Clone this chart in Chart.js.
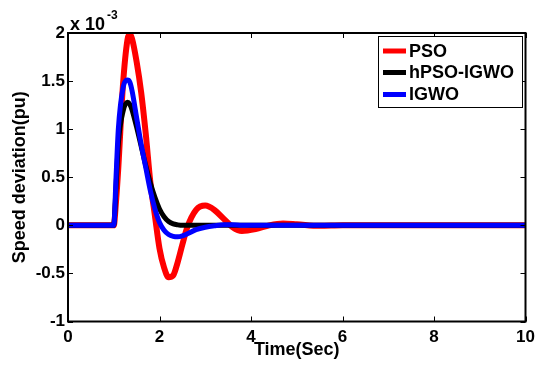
<!DOCTYPE html>
<html>
<head>
<meta charset="utf-8">
<script src="https://cdn.jsdelivr.net/npm/chart.js@4.4.1/dist/chart.umd.min.js"></script>
<style>
html,body{margin:0;padding:0;background:#fff;}
canvas{display:block;}
</style>
</head>
<body>
<canvas id="c" width="536" height="365"></canvas>
<script>
// Time axis (s)
const times = [0, 1.0, 1.05, 1.1, 1.2, 1.3, 1.35, 1.4, 1.5, 1.6, 1.7, 1.8, 1.9, 2.0, 2.1, 2.2, 2.3, 2.4, 2.5, 2.6, 2.8, 3.0, 3.2, 3.4, 3.6, 3.8, 4.1, 4.4, 4.7, 5.0, 5.5, 6.0, 10];
// Speed deviation (x 10^-3 pu)
const psoValues = [0, 0, 0.25, 0.6, 1.45, 1.93, 1.99, 1.94, 1.70, 1.38, 0.95, 0.45, 0.1, -0.24, -0.44, -0.54, -0.52, -0.38, -0.2, -0.03, 0.16, 0.205, 0.16, 0.07, -0.02, -0.06, -0.04, 0.0, 0.02, 0.012, -0.005, 0, 0];
const hybridValues = [0, 0, 0.4, 0.85, 1.18, 1.28, 1.26, 1.2, 1.02, 0.82, 0.62, 0.44, 0.29, 0.17, 0.09, 0.04, 0.015, 0.005, 0, 0, 0, 0, 0, 0, 0, 0, 0, 0, 0, 0, 0, 0, 0];
const igwoValues = [0, 0, 0.5, 1.0, 1.42, 1.51, 1.49, 1.40, 1.12, 0.84, 0.6, 0.36, 0.17, 0.03, -0.05, -0.095, -0.115, -0.12, -0.11, -0.09, -0.045, -0.02, -0.005, 0.005, 0.005, 0, 0, 0, 0, 0, 0, 0, 0];
const seriesLabels = ['PSO', 'hPSO-IGWO', 'IGWO'];
const xTicks = [0, 2, 4, 6, 8, 10];
const yTicks = [-1, -0.5, 0, 0.5, 1, 1.5, 2];

const FONT = 'Liberation Sans, Arial, sans-serif';
const toPts = vals => times.map((t, i) => ({x: t, y: vals[i]}));

const frame = {
  id: 'frame',
  afterDraw(chart) {
    const ctx = chart.ctx, a = chart.chartArea;
    const xs = chart.scales.x, ys = chart.scales.y;
    ctx.save();
    ctx.strokeStyle = '#000';
    ctx.lineWidth = 1;
    const tl = 5;
    ctx.beginPath();
    xTicks.forEach(v => {
      const px = Math.round(xs.getPixelForValue(v)) + 0.5;
      ctx.moveTo(px, a.bottom); ctx.lineTo(px, a.bottom - tl);
      ctx.moveTo(px, a.top); ctx.lineTo(px, a.top + tl);
    });
    yTicks.forEach(v => {
      const py = Math.round(ys.getPixelForValue(v)) + 0.5;
      ctx.moveTo(a.left, py); ctx.lineTo(a.left + tl, py);
      ctx.moveTo(a.right, py); ctx.lineTo(a.right - tl, py);
    });
    ctx.stroke();
    ctx.lineWidth = 2;
    ctx.strokeRect(a.left, a.top, a.right - a.left, a.bottom - a.top);

    // exponent label
    ctx.fillStyle = '#000';
    ctx.textBaseline = 'alphabetic';
    ctx.textAlign = 'left';
    ctx.font = 'bold 18px ' + FONT;
    ctx.fillText('x 10', 70, 30);
    ctx.font = 'bold 12px ' + FONT;
    ctx.fillText('-3', 107, 18.5);

    // legend
    const lx = 378.5, ly = 36.5, lw = 144, lh = 71;
    ctx.fillStyle = '#fff';
    ctx.fillRect(lx, ly, lw, lh);
    ctx.lineWidth = 1;
    ctx.strokeStyle = '#000';
    ctx.strokeRect(lx, ly, lw, lh);
    const rows = [51, 72.5, 94.5];
    chart.data.datasets.forEach((ds, i) => {
      ctx.strokeStyle = ds.borderColor;
      ctx.lineWidth = 5;
      ctx.beginPath();
      ctx.moveTo(383, rows[i]); ctx.lineTo(406, rows[i]);
      ctx.stroke();
      ctx.fillStyle = '#000';
      ctx.font = 'bold 18px ' + FONT;
      ctx.textBaseline = 'middle';
      ctx.fillText(ds.label, 409, rows[i] + 1);
    });
    ctx.restore();
  }
};

new Chart(document.getElementById('c'), {
  type: 'line',
  data: {
    datasets: [
      {label: seriesLabels[0], data: toPts(psoValues), borderColor: '#ff0000', borderWidth: 6, order: 2},
      {label: seriesLabels[1], data: toPts(hybridValues), borderColor: '#000000', borderWidth: 5, order: 1},
      {label: seriesLabels[2], data: toPts(igwoValues), borderColor: '#0000ff', borderWidth: 5, order: 0}
    ]
  },
  options: {
    responsive: false,
    animation: false,
    events: [],
    layout: {padding: {top: 33, right: 10.5, left: 0, bottom: 0}},
    elements: {
      point: {radius: 0},
      line: {cubicInterpolationMode: 'monotone', borderCapStyle: 'round', borderJoinStyle: 'round'}
    },
    plugins: {legend: {display: false}, tooltip: {enabled: false}},
    scales: {
      x: {
        type: 'linear', min: 0, max: 10,
        afterBuildTicks: s => { s.ticks = xTicks.map(v => ({value: v})); },
        grid: {display: false, drawTicks: false},
        border: {display: false},
        ticks: {color: '#000', font: {family: FONT, size: 17, weight: 'bold'}, padding: 6, maxRotation: 0},
        title: {display: true, text: 'Time(Sec)', color: '#000', font: {family: FONT, size: 18, weight: 'bold'}, padding: {top: 0, bottom: 4}},
        afterFit: s => { s.height = 43.5; s.paddingLeft = 0; s.paddingRight = 0; }
      },
      y: {
        type: 'linear', min: -1, max: 2,
        afterBuildTicks: s => { s.ticks = yTicks.map(v => ({value: v})); },
        grid: {display: false, drawTicks: false},
        border: {display: false},
        ticks: {color: '#000', font: {family: FONT, size: 17, weight: 'bold'}, padding: 3, callback: v => String(v)},
        title: {display: true, text: 'Speed deviation(pu)', color: '#000', font: {family: FONT, size: 18, weight: 'bold'}, padding: {top: 9, bottom: 0}},
        afterFit: s => { s.width = 68; s.paddingTop = 0; s.paddingBottom = 0; }
      }
    }
  },
  plugins: [frame]
});
</script>
</body>
</html>
